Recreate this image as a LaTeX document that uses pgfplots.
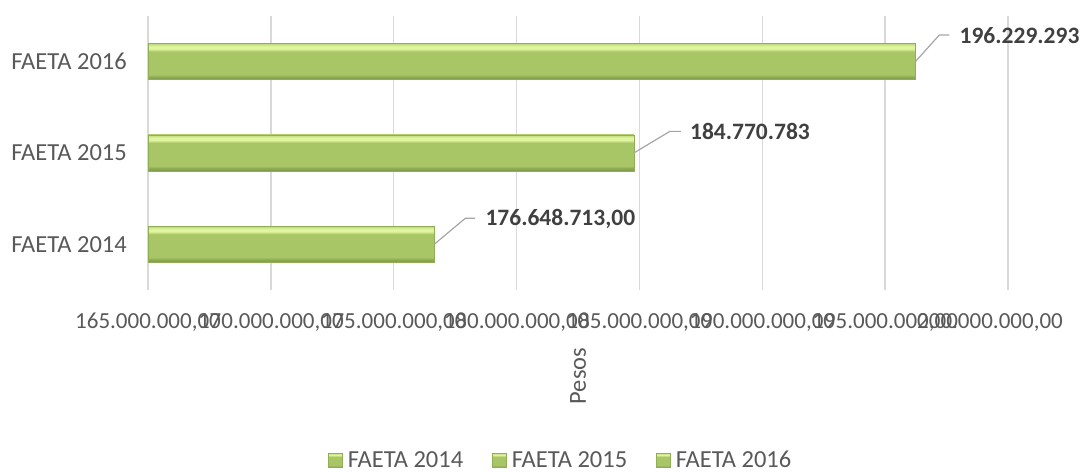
\documentclass[border=0pt]{standalone}
\usepackage{fontspec}
\setmainfont{Carlito}
\usepackage{pgfplots}
\pgfplotsset{compat=1.18}
\definecolor{txt}{HTML}{595959}
\definecolor{lbl}{HTML}{404040}
\definecolor{gridc}{HTML}{D9D9D9}
\definecolor{barTop}{HTML}{E0F5A0}
\definecolor{barMid}{HTML}{A8C666}
\definecolor{barBot}{HTML}{7C9A46}
\definecolor{barEdge}{HTML}{8FAE55}
\definecolor{leader}{HTML}{A6A6A6}
\pgfdeclareverticalshading{barshade}{100bp}{color(0bp)=(barBot); color(25bp)=(barBot); color(29bp)=(barBot!60!barMid); color(32bp)=(barMid); color(64bp)=(barMid); color(68bp)=(barTop); color(71bp)=(barTop); color(75bp)=(barMid!60!barTop); color(100bp)=(barMid!60!barTop)}

\pgfplotstableread{
x y label
176648713 0 176.648.713,00
}\dataA
\pgfplotstableread{
x y label
184770783 1 184.770.783
}\dataB
\pgfplotstableread{
x y label
196229293 2 196.229.293
}\dataC

\pgfplotsset{barstyle/.style={draw=barEdge, line width=0.6bp, shade, shading=barshade}}

\begin{document}
\begin{tikzpicture}
\path[use as bounding box] (0,0) rectangle (1084bp,472bp);
\begin{axis}[
  at={(148bp,182bp)}, anchor=south west,
  scale only axis, width=860bp, height=274bp,
  xbar, bar width=36bp, bar shift=0pt,
  xmin=165000000, xmax=200000000,
  ymin=-0.5, ymax=2.5,
  xtick={165000000,170000000,175000000,180000000,185000000,190000000,195000000,200000000},
  xticklabels={{165.000.000,00},{170.000.000,00},{175.000.000,00},{180.000.000,00},{185.000.000,00},{190.000.000,00},{195.000.000,00},{\hspace*{-36bp}200.000.000,00}},
  scaled x ticks=false,
  ytick={0,1,2}, yticklabels={FAETA 2014,FAETA 2015,FAETA 2016},
  axis line style={draw=none},
  major tick length=0pt,
  xmajorgrids, ymajorgrids=false,
  grid style={gridc, line width=1.5bp},
  tick label style={font=\fontsize{23bp}{27bp}\selectfont, text=txt},
  yticklabel style={inner sep=0pt, anchor=east, xshift=-21bp, font=\fontsize{24.5bp}{29bp}\selectfont},
  xticklabel style={inner sep=0pt, anchor=north, yshift=-23bp},
  xlabel={Pesos},
  xlabel style={rotate=90, at={(axis description cs:0.5,-0.314)}, anchor=center, inner sep=0pt, font=\fontsize{24.5bp}{29bp}\selectfont, text=txt},
  point meta=explicit symbolic,
  nodes near coords,
  nodes near coords style={font=\fontsize{23.5bp}{28bp}\selectfont\bfseries, text=lbl, inner sep=0pt, anchor=base west},
  legend columns=3,
  legend style={at={(0.2093,-0.622)}, anchor=west, draw=none, fill=none, inner sep=0pt,
    nodes={inner sep=0pt, text=txt, font=\fontsize{24.5bp}{29bp}\selectfont},
    /tikz/every odd column/.append style={column sep=5bp},
    /tikz/every even column/.append style={column sep=29bp}},
  legend image code/.code={\path[#1] (0bp,-7bp) rectangle (14bp,7bp);},
]
\addplot[barstyle, nodes near coords style={xshift=51bp, yshift=18.6bp}] table[x=x, y=y, meta=label] {\dataA};
\addplot[barstyle, nodes near coords style={xshift=56bp, yshift=14bp}] table[x=x, y=y, meta=label] {\dataB};
\addplot[barstyle, nodes near coords style={xshift=44bp, yshift=18bp}] table[x=x, y=y, meta=label] {\dataC};
\legend{FAETA 2014,FAETA 2015,FAETA 2016}
\draw[leader, line width=1.2bp] (axis cs:176648713,0) -- ++(31bp,26bp) -- ++(10bp,0pt);
\draw[leader, line width=1.2bp] (axis cs:184770783,1) -- ++(36bp,21.6bp) -- ++(11bp,0pt);
\draw[leader, line width=1.2bp] (axis cs:196229293,2) -- ++(24bp,26.7bp) -- ++(10bp,0pt);
\end{axis}
\end{tikzpicture}
\end{document}
